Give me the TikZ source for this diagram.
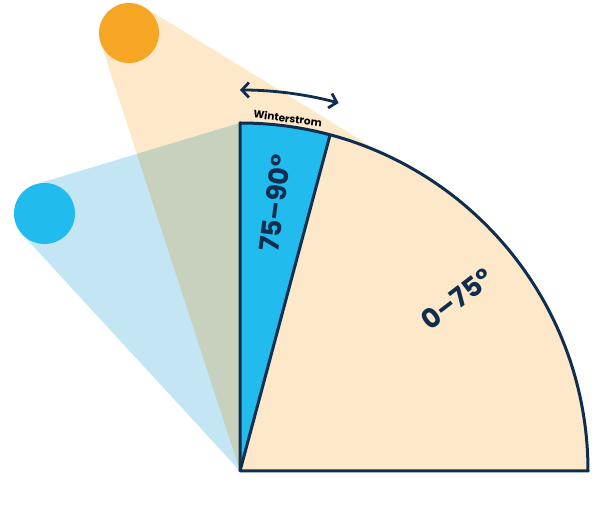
\documentclass[tikz,border=0pt]{standalone}
\usepackage{fontspec}
\setmainfont{Poppins}
\usetikzlibrary{arrows.meta,calc}
\definecolor{navy}{HTML}{0F2D4F}
\definecolor{sunorange}{HTML}{F6A623}
\definecolor{skyblue}{HTML}{22BBEE}
\definecolor{lightorange}{HTML}{FDE8C9}
\definecolor{lightblue}{HTML}{C3E5F4}
\definecolor{overlap}{HTML}{C7D1BD}
\tikzset{
  sun/.style={circle, minimum size=#1, inner sep=0pt, draw=none},
  outline/.style={draw=navy, line width=3pt, line join=round},
  biglabel/.style={text=navy, font=\bfseries\fontsize{27}{27}\selectfont, inner sep=0pt},
  smalllabel/.style={text=black, font=\bfseries\fontsize{10.5}{10.5}\selectfont, inner sep=0pt},
  swing/.style={draw=navy, line width=2.8pt, {Straight Barb[length=7pt,width=15pt]}-{Straight Barb[length=7pt,width=15pt]}}
}
\begin{document}
\begin{tikzpicture}[x=1pt,y=1pt]
\useasboundingbox (0,0) rectangle (600,527);
% key points
\coordinate (O) at (240,56);
\coordinate (top) at ($(O)+(90:348)$);
\coordinate (mid) at ($(O)+(75:348)$);
\coordinate (beamhit) at ($(O)+(65.8:348)$);
\coordinate (right) at ($(O)+(0:348)$);
\coordinate (to1) at (100.5,484.7);
\coordinate (to2) at (144.6,519.6);
\coordinate (tb1) at (35.7,342.7);
\coordinate (tb2) at (22.05,292.85);
% beams
\fill[lightorange] (to1) -- (O) -- (beamhit) -- (to2) -- cycle;
\fill[lightblue] (tb1) -- (top) -- (O) -- (tb2) -- cycle;
\begin{scope}
  \clip (tb1) -- (top) -- (O) -- (tb2) -- cycle;
  \fill[overlap] (to1) -- (O) -- (beamhit) -- (to2) -- cycle;
\end{scope}
% sector
\fill[lightorange] (O) -- (right) arc[start angle=0, end angle=75, radius=348] -- cycle;
\fill[skyblue] (O) -- (mid) arc[start angle=75, end angle=90, radius=348] -- cycle;
\draw[outline] (O) -- (right) arc[start angle=0, end angle=90, radius=348] -- cycle;
\draw[outline] (O) -- (mid);
% suns
\node[sun=60pt, fill=sunorange] (sunA) at (129,494) {};
\node[sun=61pt, fill=skyblue] (sunB) at (44.5,313.5) {};
% swing arrow
\coordinate (arrA) at ($(O)+(90:381)$);
\draw[swing] (arrA) arc[start angle=90, end angle=75, radius=381] coordinate (arrB);
% labels
\node[smalllabel, rotate=-7.5] (wl) at ($(O)+(82.3:356)$) {Winterstrom};
\node[biglabel, rotate=82.5] (l1) at ($(O)+(82.5:270)$) {75–90°};
\node[biglabel, rotate=37.5] (l2) at ($(O)+(38.5:277)$) {0–75°};
\end{tikzpicture}
\end{document}
